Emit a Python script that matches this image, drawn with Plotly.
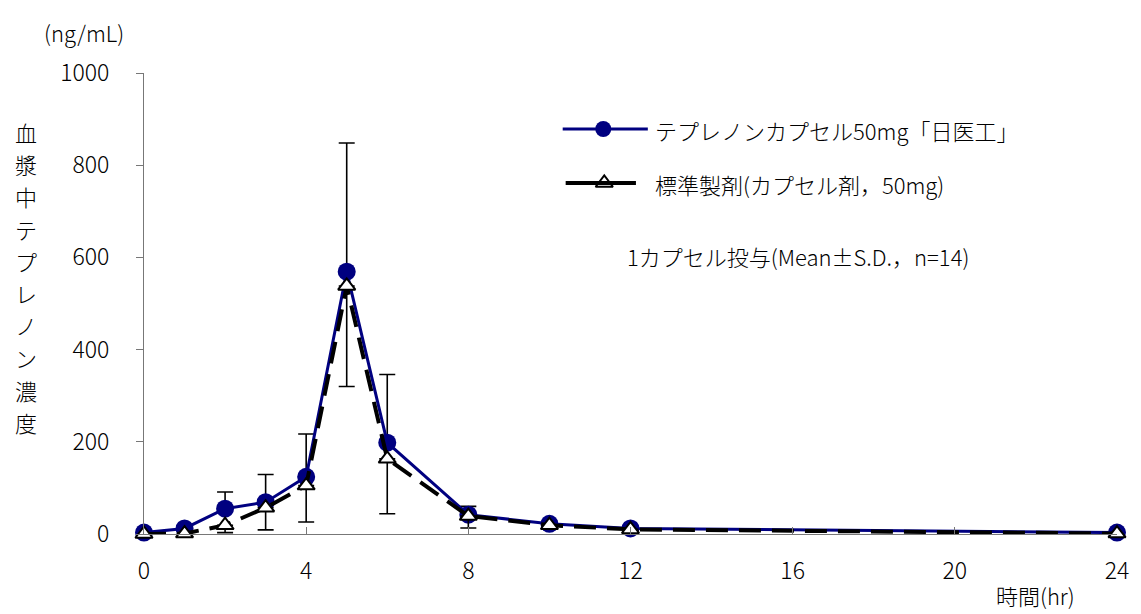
import plotly.graph_objects as go

# 時間 (hr)
hours = [0, 1, 2, 3, 4, 5, 6, 8, 10, 12, 24]

# テプレノンカプセル50mg「日医工」: mean and +S.D.
test_mean = [3, 12, 55, 69, 124, 569, 198, 42, 22, 12, 3]
test_sd = [2, 5, 36, 60, 93, 279, 148, 18, 6, 4, 2]

# 標準製剤(カプセル剤，50mg): mean and -S.D.
ref_mean = [0, 1, 19, 57, 105, 538, 163, 39, 19, 10, 1]
ref_sd = [0, 1, 16, 48, 79, 218, 119, 26, 5, 3, 1]

x_ticks = [0, 4, 8, 12, 16, 20, 24]
y_ticks = [0, 200, 400, 600, 800, 1000]

test_name = "テプレノンカプセル50mg「日医工」"
ref_name = "標準製剤(カプセル剤，50mg)"
note_text = "1カプセル投与(Mean±S.D.，n=14)"
y_title = "血漿中テプレノン濃度"
y_unit = "(ng/mL)"
x_title = "時間(hr)"

FONT = "Noto Sans CJK JP"
FS = 22
TICK_FS = 23
WEIGHT = 300
NAVY = "#000080"

W, H = 1141, 614
L, R, T, B = 144, 14, 73, 80
PW, PH = W - L - R, H - T - B


def fx(px):
    """pixel x -> paper x"""
    return (px - L) / PW


def fy(py):
    """pixel y -> paper y"""
    return (H - B - py) / PH


def text_font(size=FS):
    return dict(family=FONT, size=size, color="black", weight=WEIGHT)


fig = go.Figure()

fig.add_trace(go.Scatter(
    x=hours, y=test_mean, name=test_name, mode="lines+markers",
    line=dict(color=NAVY, width=3),
    marker=dict(symbol="circle", size=18, color=NAVY),
    error_y=dict(type="data", symmetric=False, array=test_sd,
                 arrayminus=[0] * len(test_sd), color="black",
                 thickness=1.6, width=8),
    cliponaxis=False, showlegend=False,
))

fig.add_trace(go.Scatter(
    x=hours, y=ref_mean, name=ref_name, mode="lines+markers",
    line=dict(color="black", width=4, dash="22px,11px"),
    marker=dict(symbol="triangle-up", size=15, color="white",
                line=dict(color="black", width=2)),
    error_y=dict(type="data", symmetric=False, array=[0] * len(ref_sd),
                 arrayminus=ref_sd, color="black", thickness=1.6, width=8),
    cliponaxis=False, showlegend=False,
))

# hand-drawn key: sample lines, symbols and labels
key_rows = [
    dict(y=129, x0=567, x1=653, xm=608, color=NAVY, width=3,
         symbol="circle", size=16, fill=NAVY, text=test_name),
    dict(y=183, x0=570, x1=641, xm=609, color="black", width=4,
         symbol="triangle-up", size=15, fill="white", text=ref_name),
]
for row in key_rows:
    fig.add_shape(type="line", xref="paper", yref="paper",
                  x0=fx(row["x0"]), x1=fx(row["x1"]),
                  y0=fy(row["y"]), y1=fy(row["y"]),
                  line=dict(color=row["color"], width=row["width"]))
    fig.add_trace(go.Scatter(
        x=[fx(row["xm"])], y=[fy(row["y"])], xaxis="x2", yaxis="y2",
        mode="markers", showlegend=False, hoverinfo="skip",
        marker=dict(symbol=row["symbol"], size=row["size"], color=row["fill"],
                    line=dict(color=row["color"], width=2 if row["fill"] == "white" else 0)),
        cliponaxis=False,
    ))
    fig.add_annotation(text=row["text"], xref="paper", yref="paper",
                       x=fx(658), y=fy(row["y"] + 1), xanchor="left",
                       yanchor="middle", showarrow=False, font=text_font())

fig.add_annotation(text=note_text, xref="paper", yref="paper",
                   x=fx(630), y=fy(256), xanchor="left", yanchor="middle",
                   showarrow=False, font=text_font())

# vertical axis title, one character per line
for i, ch in enumerate(y_title):
    fig.add_annotation(text=ch, xref="paper", yref="paper",
                       x=fx(25), y=fy(132 + 32.2 * i), xanchor="center",
                       yanchor="middle", showarrow=False, font=text_font())

fig.add_annotation(text=y_unit, xref="paper", yref="paper",
                   x=fx(83), y=fy(32), xanchor="center", yanchor="middle",
                   showarrow=False, font=text_font())
fig.add_annotation(text=x_title, xref="paper", yref="paper",
                   x=fx(1045), y=fy(595), xanchor="center", yanchor="middle",
                   showarrow=False, font=text_font())

fig.update_layout(
    width=W, height=H,
    margin=dict(l=L, r=R, t=T, b=B, pad=0),
    paper_bgcolor="white", plot_bgcolor="white",
    font=text_font(),
    xaxis=dict(range=[0, 24], tickvals=x_ticks, showgrid=False, zeroline=False,
               showline=True, linecolor="#777777", linewidth=1,
               ticks="inside", ticklen=7, tickcolor="#777777",
               tickfont=text_font(TICK_FS), ticklabelstandoff=16),
    yaxis=dict(range=[0, 1000], tickvals=y_ticks, showgrid=False, zeroline=False,
               showline=True, linecolor="#777777", linewidth=1,
               ticks="outside", ticklen=7, tickcolor="#777777",
               tickfont=text_font(TICK_FS), ticklabelstandoff=22),
    xaxis2=dict(range=[0, 1], overlaying="x", anchor="y2", visible=False),
    yaxis2=dict(range=[0, 1], overlaying="y", anchor="x2", visible=False),
)

fig.write_html("out.html")
